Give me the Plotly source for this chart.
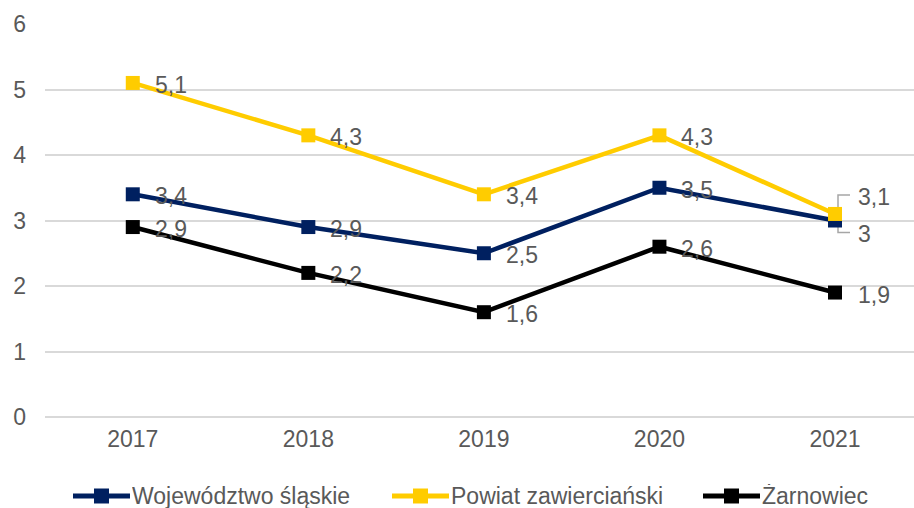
import plotly.graph_objects as go

years = ["2017", "2018", "2019", "2020", "2021"]
wojewodztwo = [3.4, 2.9, 2.5, 3.5, 3.0]
powiat = [5.1, 4.3, 3.4, 4.3, 3.1]
zarnowiec = [2.9, 2.2, 1.6, 2.6, 1.9]
series_names = ["Województwo śląskie", "Powiat zawierciański", "Żarnowiec"]
colors = ["#002060", "#FFCC00", "#000000"]
y_ticks = [0, 1, 2, 3, 4, 5, 6]

FONT = "Liberation Sans, Arial, sans-serif"
TXT = "#595959"
FS = 23

W, H = 914, 508
ML, MR, MT, MB = 45, 0, 24, 91
PW, PH = W - ML - MR, H - MT - MB

def fmt(v):
    s = ("%g" % v)
    return s.replace(".", ",")

def px_x(px):
    return (px - ML) / PW

def px_y(py):
    return (H - MB - py) / PH

fig = go.Figure()
all_series = [wojewodztwo, powiat, zarnowiec]
for name, vals, col in zip(series_names, all_series, colors):
    fig.add_trace(go.Scatter(
        x=years, y=vals, name=name, mode="lines+markers",
        line=dict(color=col, width=4.5),
        marker=dict(symbol="square", size=14, color=col),
        cliponaxis=False, showlegend=False,
    ))

annotations = []
yshifts = {
    (0, 4): -13,
    (1, 4): 17,
}
for si, vals in enumerate(all_series):
    for i, v in enumerate(vals):
        annotations.append(dict(
            x=i, y=v, xref="x", yref="y", text=fmt(v), showarrow=False,
            xanchor="left", yanchor="middle",
            xshift=(20 if i < 4 else 21), yshift=yshifts.get((si, i), -2),
            font=dict(family=FONT, size=FS, color=TXT),
        ))

shapes = [
    dict(type="path", xref="x", yref="y", xsizemode="pixel", ysizemode="pixel",
         xanchor=4, yanchor=powiat[4], path="M3,7 L3,19 L15,19",
         line=dict(color="#A6A6A6", width=1.5), layer="below"),
    dict(type="path", xref="x", yref="y", xsizemode="pixel", ysizemode="pixel",
         xanchor=4, yanchor=wojewodztwo[4], path="M3,0 L3,-12 L15,-12",
         line=dict(color="#A6A6A6", width=1.5), layer="below"),
]

# custom legend (long line symbols like the original)
legend_line_start = [73, 392, 703]
legend_y = 496
for name, col, x0 in zip(series_names, colors, legend_line_start):
    shapes.append(dict(type="line", xref="paper", yref="paper",
                       x0=px_x(x0), x1=px_x(x0 + 57), y0=px_y(legend_y), y1=px_y(legend_y),
                       line=dict(color=col, width=5)))
    shapes.append(dict(type="rect", xref="paper", yref="paper",
                       xsizemode="pixel", ysizemode="pixel",
                       xanchor=px_x(x0 + 28.5), yanchor=px_y(legend_y),
                       x0=-7.5, x1=7.5, y0=-7.5, y1=7.5,
                       fillcolor=col, line=dict(width=0)))
    annotations.append(dict(x=px_x(x0 + 58), y=px_y(legend_y), xref="paper", yref="paper",
                            text=name, showarrow=False, xanchor="left", yanchor="middle",
                            height=24, borderpad=0,
                            font=dict(family=FONT, size=FS, color=TXT)))

fig.update_layout(
    width=W, height=H,
    margin=dict(l=ML, r=MR, t=MT, b=MB),
    paper_bgcolor="white", plot_bgcolor="white",
    font=dict(family=FONT, size=FS, color=TXT),
    annotations=annotations,
    shapes=shapes,
    showlegend=False,
    xaxis=dict(type="category", range=[-0.5, 4.45], showgrid=False, zeroline=False,
               showline=False, ticks="", tickfont=dict(size=FS, color=TXT),
               ticklabelstandoff=6, automargin=False),
    yaxis=dict(range=[0, 6], tickvals=y_ticks, showgrid=True, gridcolor="#D9D9D9",
               gridwidth=1.5, zeroline=True, zerolinecolor="#D9D9D9", zerolinewidth=1.5,
               showline=False, ticks="",
               tickfont=dict(size=FS, color=TXT), ticklabelstandoff=18, automargin=False),
)

fig.write_html("out.html", config={"displayModeBar": False},
               post_script="document.body.style.margin='0';")
